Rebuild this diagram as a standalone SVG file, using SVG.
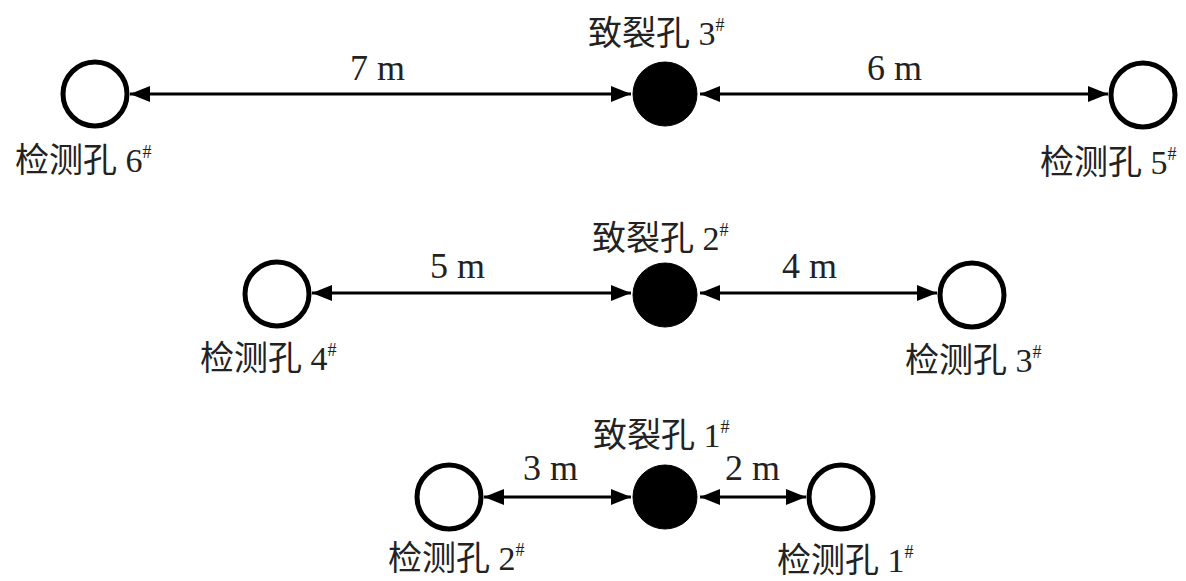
<svg xmlns="http://www.w3.org/2000/svg" width="1186" height="581" viewBox="0 0 1186 581">
<defs>
<style>
.hole{fill:#fff;stroke:#000;stroke-width:5}
.frac{fill:#000;stroke:#000;stroke-width:1}
.lbl{font-family:"Liberation Serif","Noto Sans CJK SC",serif;font-size:34px;fill:#222}
.sup{font-size:18px}
.dim{font-family:"Liberation Serif",serif;font-size:36px;fill:#222}
.conn{stroke:#000;stroke-width:3;fill:none;marker-start:url(#ah);marker-end:url(#ah)}
</style>
<marker id="ah" viewBox="0 0 20 16" refX="20" refY="8" markerWidth="20" markerHeight="16" markerUnits="userSpaceOnUse" orient="auto-start-reverse">
<path d="M0,0 L20,8 L0,16 Z" fill="#000"/>
</marker>
</defs>
<rect width="1186" height="581" fill="#fff"/>
<g id="connectors">
<line class="conn" x1="130" y1="94" x2="631" y2="94"/>
<line class="conn" x1="700" y1="94" x2="1108" y2="94"/>
<line class="conn" x1="312" y1="293" x2="631" y2="293"/>
<line class="conn" x1="700" y1="293" x2="937" y2="293"/>
<line class="conn" x1="484" y1="497" x2="631" y2="497"/>
<line class="conn" x1="700" y1="497" x2="806" y2="497"/>
</g>
<g id="dims">
<text class="dim" x="350" y="80">7 m</text>
<text class="dim" x="867" y="80">6 m</text>
<text class="dim" x="430" y="278">5 m</text>
<text class="dim" x="782" y="278">4 m</text>
<text class="dim" x="523" y="480">3 m</text>
<text class="dim" x="725" y="480">2 m</text>
</g>
<g id="hole6">
<circle class="hole" cx="95" cy="94" r="32"/>
<text class="lbl" x="15" y="172">检测孔 6<tspan class="sup" dy="-14">#</tspan></text>
</g>
<g id="frac3">
<circle class="frac" cx="665" cy="94" r="32"/>
<text class="lbl" x="588" y="45">致裂孔 3<tspan class="sup" dy="-14">#</tspan></text>
</g>
<g id="hole5">
<circle class="hole" cx="1143" cy="95" r="32"/>
<text class="lbl" x="1040" y="174">检测孔 5<tspan class="sup" dy="-14">#</tspan></text>
</g>
<g id="hole4">
<circle class="hole" cx="277" cy="294" r="32"/>
<text class="lbl" x="200" y="370">检测孔 4<tspan class="sup" dy="-14">#</tspan></text>
</g>
<g id="frac2">
<circle class="frac" cx="665" cy="295" r="32"/>
<text class="lbl" x="592" y="250">致裂孔 2<tspan class="sup" dy="-14">#</tspan></text>
</g>
<g id="hole3">
<circle class="hole" cx="972" cy="295" r="32"/>
<text class="lbl" x="905" y="372">检测孔 3<tspan class="sup" dy="-14">#</tspan></text>
</g>
<g id="hole2">
<circle class="hole" cx="449" cy="497" r="32"/>
<text class="lbl" x="388" y="570">检测孔 2<tspan class="sup" dy="-14">#</tspan></text>
</g>
<g id="frac1">
<circle class="frac" cx="665" cy="497" r="32"/>
<text class="lbl" x="593" y="447">致裂孔 1<tspan class="sup" dy="-14">#</tspan></text>
</g>
<g id="hole1">
<circle class="hole" cx="841" cy="497" r="32"/>
<text class="lbl" x="777" y="572">检测孔 1<tspan class="sup" dy="-14">#</tspan></text>
</g>
</svg>
